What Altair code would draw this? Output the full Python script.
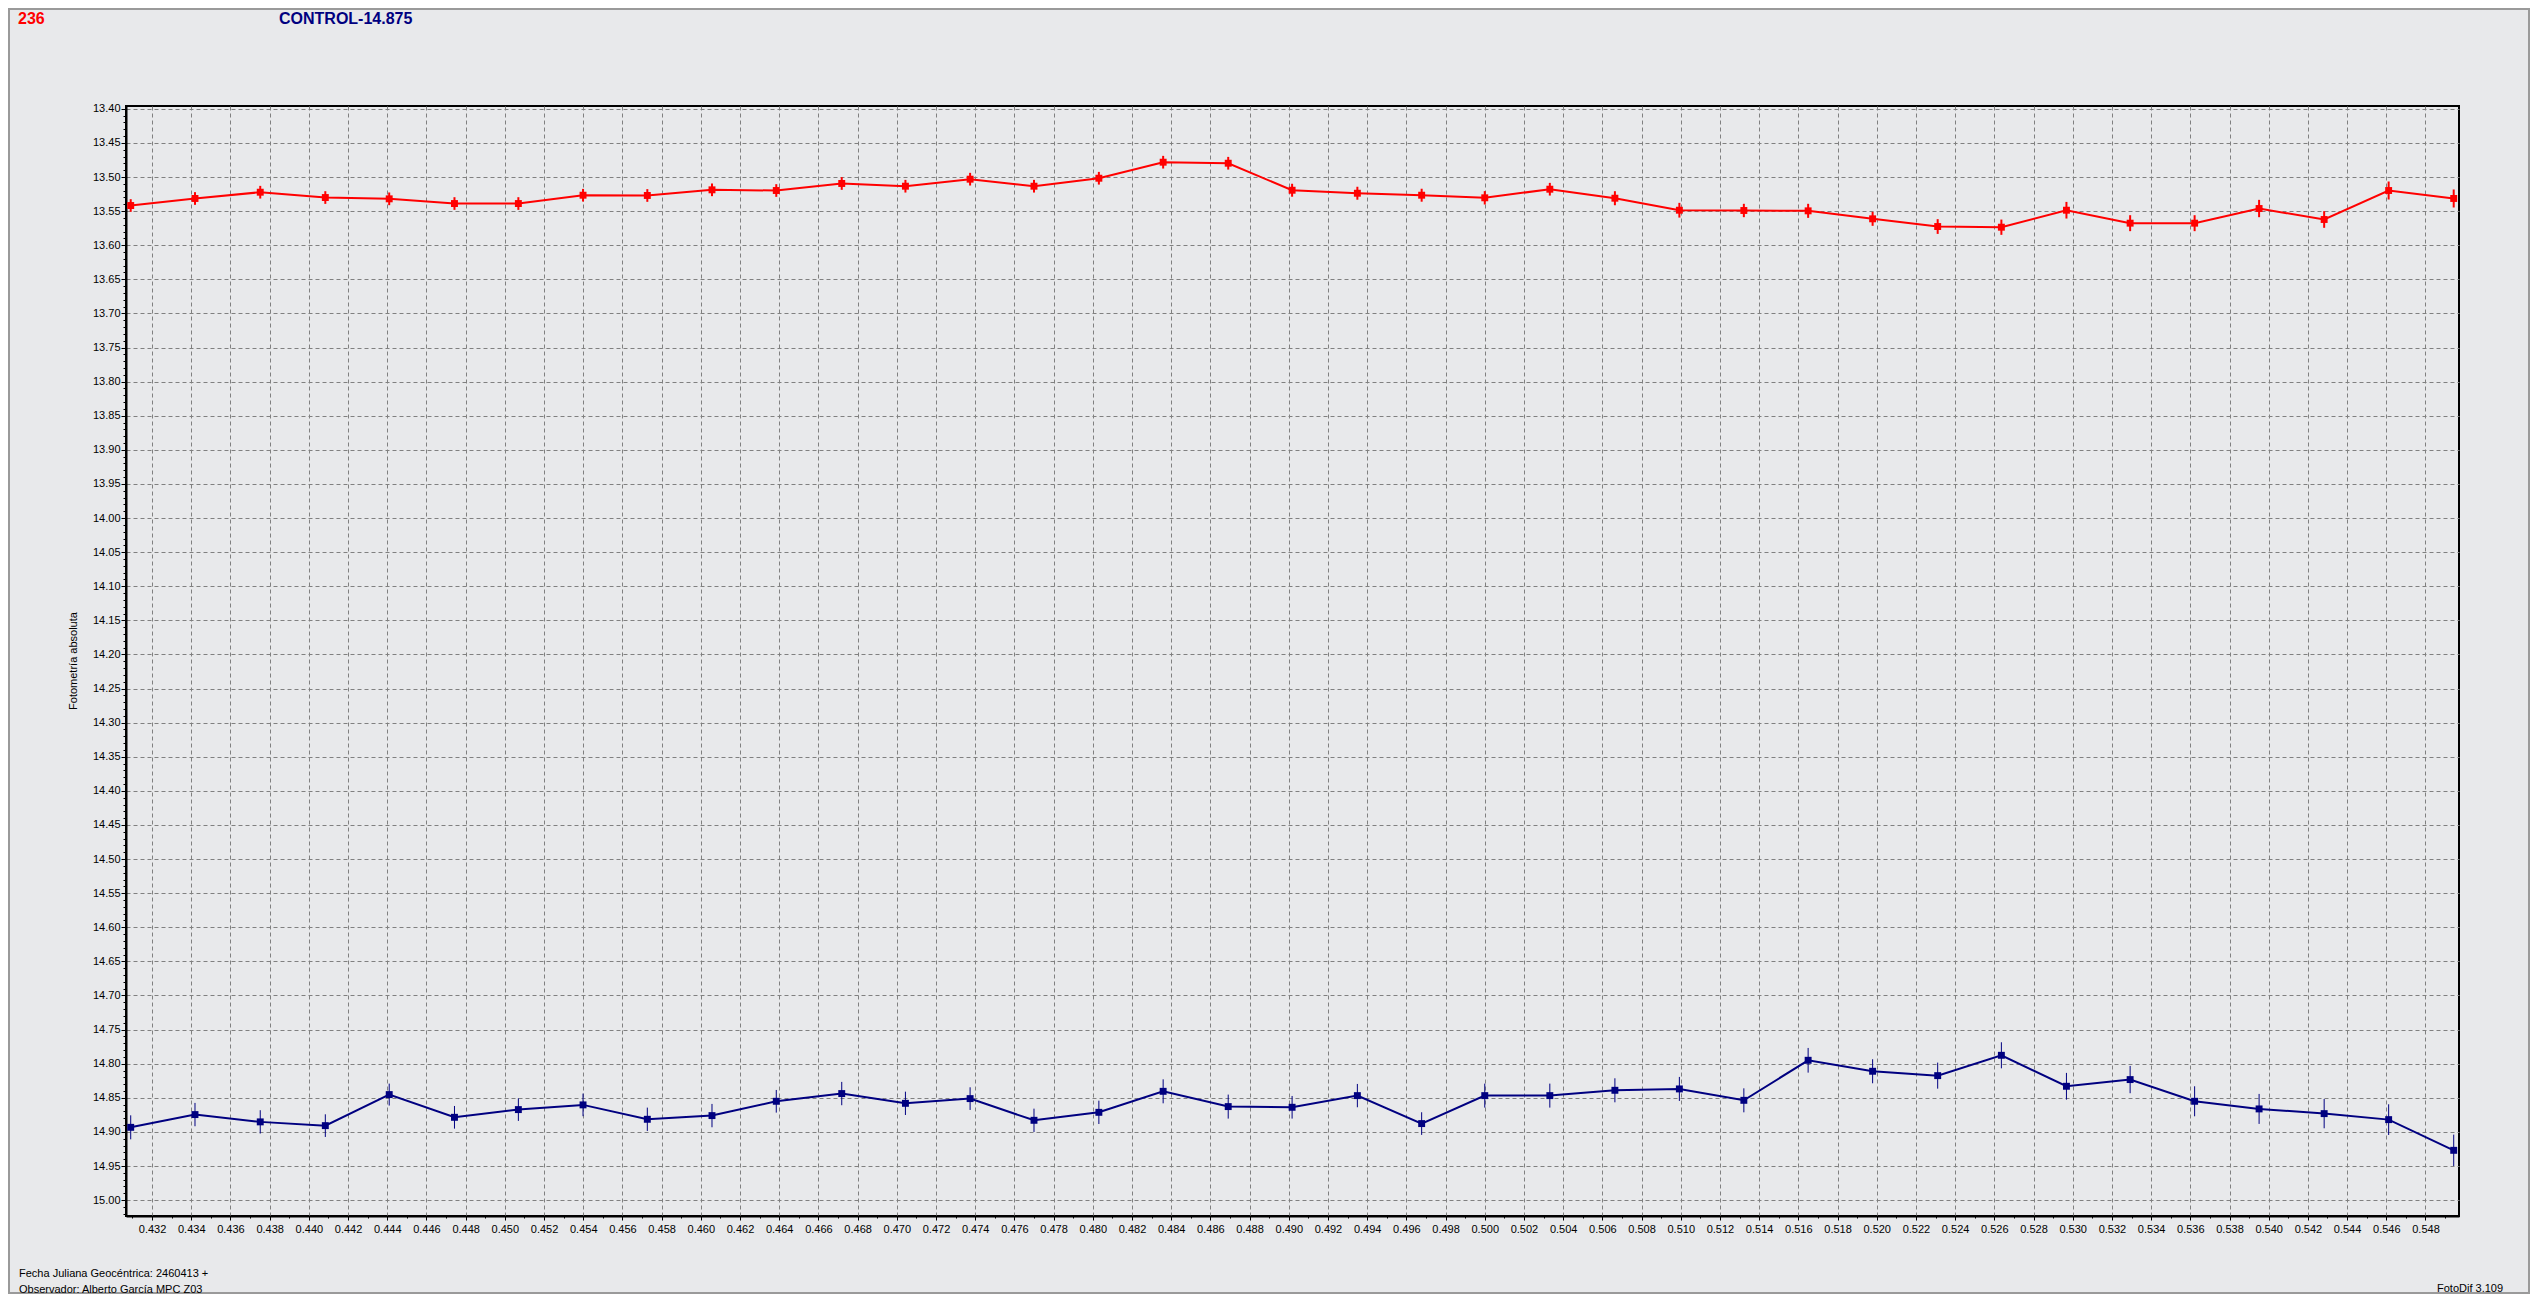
import altair as alt
import pandas as pd
import numpy as np

# ---------------- data ----------------
x_jd = [0.43091, 0.43419, 0.43752, 0.44084, 0.44410, 0.44743, 0.45069, 0.45399,
        0.45727, 0.46057, 0.46385, 0.46719, 0.47044, 0.47374, 0.47700, 0.48031,
        0.48359, 0.48691, 0.49017, 0.49350, 0.49678, 0.50000, 0.50332, 0.50664,
        0.50993, 0.51322, 0.51650, 0.51979, 0.52311, 0.52636, 0.52968, 0.53293,
        0.53622, 0.53951, 0.54283, 0.54612, 0.54944]

mag_236 = [13.5418, 13.5315, 13.5223, 13.5301, 13.5320, 13.5389, 13.5389, 13.5267,
           13.5271, 13.5188, 13.5198, 13.5095, 13.5135, 13.5032, 13.5135, 13.5018,
           13.4783, 13.4798, 13.5194, 13.5238, 13.5267, 13.5305, 13.5179, 13.5311,
           13.5487, 13.5491, 13.5496, 13.5613, 13.5726, 13.5736, 13.5487, 13.5677,
           13.5677, 13.5462, 13.5623, 13.5198, 13.5315]

err_236 = [0.0093, 0.0093, 0.0093, 0.0093, 0.0093, 0.0093, 0.0093, 0.0093,
           0.0093, 0.0093, 0.0093, 0.0093, 0.0093, 0.0093, 0.0093, 0.0093,
           0.0093, 0.0093, 0.0095, 0.0095, 0.0095, 0.0098, 0.0093, 0.0103,
           0.0108, 0.0098, 0.0103, 0.0103, 0.0108, 0.0112, 0.0122, 0.0117,
           0.0117, 0.0127, 0.0122, 0.0132, 0.0132]

mag_ctrl = [14.8933, 14.8746, 14.8853, 14.8908, 14.8453, 14.8786, 14.8673, 14.8604,
            14.8815, 14.8761, 14.8551, 14.8438, 14.8581, 14.8512, 14.8830, 14.8713,
            14.8405, 14.8629, 14.8639, 14.8468, 14.8878, 14.8468, 14.8468, 14.8390,
            14.8370, 14.8537, 14.7950, 14.8111, 14.8175, 14.7877, 14.8331, 14.8233,
            14.8551, 14.8663, 14.8732, 14.8820, 14.9270]

err_ctrl = [0.0176, 0.0171, 0.0171, 0.0166, 0.0161, 0.0166, 0.0166, 0.0166,
            0.0171, 0.0171, 0.0166, 0.0171, 0.0171, 0.0166, 0.0171, 0.0171,
            0.0176, 0.0176, 0.0166, 0.0171, 0.0166, 0.0176, 0.0176, 0.0176,
            0.0176, 0.0176, 0.0181, 0.0176, 0.0191, 0.0191, 0.0196, 0.0200,
            0.0220, 0.0220, 0.0215, 0.0225, 0.0230]

series_names = ["236", "CONTROL-14.875"]
series_colors = ["#FF0000", "#000080"]
bar_widths = [2, 1]

y_title = "Fotometría absoluta"
footer_1 = "Fecha Juliana Geocéntrica: 2460413 +"
footer_2 = "Observador: Alberto García MPC Z03"
footer_right = "FotoDif 3.109"

x_ticks = [float(round(v, 3)) for v in np.arange(431, 550) / 1000.0]
y_ticks = [float(round(v, 2)) for v in np.arange(1340, 1503) / 100.0]

rows = []
for name, mags, errs in [(series_names[0], mag_236, err_236),
                         (series_names[1], mag_ctrl, err_ctrl)]:
    for xv, m, e in zip(x_jd, mags, errs):
        rows.append({"series": name, "jd": xv, "mag": m, "lo": m - e, "hi": m + e})
df = pd.DataFrame(rows)

# ---------------- layout ----------------
W, H = 2333, 1110
PAD_L, PAD_T = 118, 98
TOTAL_W, TOTAL_H = 2522, 1286
PAD_R = TOTAL_W - PAD_L - W
PAD_B = TOTAL_H - PAD_T - H

BG = "#E8E9EB"
FONT = "Liberation Sans"

x_scale = alt.Scale(domain=[0.43067, 0.54971], nice=False, zero=False)
y_scale = alt.Scale(domain=[13.3959, 15.0233], nice=False, zero=False, reverse=True)

x_minor = "round(datum.value*1000) % 2 != 0"
y_minor = "round(datum.value*100) % 5 != 0"

x_axis = alt.Axis(
    values=x_ticks, tickCount=1000,
    labelExpr="round(datum.value*1000) % 2 == 0 ? format(datum.value, '.3f') : ''",
    grid=True, gridColor="#808080", gridDash=[4, 3], gridWidth=1,
    gridOpacity={"condition": {"test": x_minor, "value": 0}, "value": 1},
    tickSize={"condition": {"test": x_minor, "value": 2}, "value": 4},
    tickColor="black", tickWidth=1,
    domainColor="black", domainWidth=2,
    labelFont=FONT, labelFontSize=11, labelColor="black",
    labelPadding=3, labelOverlap=False, labelFlush=False, title=None,
)

y_axis = alt.Axis(
    values=y_ticks, tickCount=1000,
    labelExpr="round(datum.value*100) % 5 == 0 ? format(datum.value, '.2f') : ''",
    grid=True, gridColor="#808080", gridDash=[4, 3], gridWidth=1,
    gridOpacity={"condition": {"test": y_minor, "value": 0}, "value": 1},
    tickSize={"condition": {"test": y_minor, "value": 3}, "value": 5},
    tickColor="black", tickWidth=1,
    domainColor="black", domainWidth=2,
    labelFont=FONT, labelFontSize=11, labelColor="black",
    labelPadding=1, labelOverlap=False, labelFlush=False, title=None,
)

color = alt.Color("series:N", scale=alt.Scale(domain=series_names, range=series_colors),
                  legend=None)

base = alt.Chart(df)

lines = base.mark_line(strokeWidth=2).encode(
    x=alt.X("jd:Q", scale=x_scale, axis=x_axis),
    y=alt.Y("mag:Q", scale=y_scale, axis=y_axis),
    color=color,
    detail="series:N",
)

bars = base.mark_rule().encode(
    x=alt.X("jd:Q", scale=x_scale),
    y=alt.Y("lo:Q", scale=y_scale),
    y2="hi:Q",
    color=color,
    strokeWidth=alt.StrokeWidth("series:N",
                                scale=alt.Scale(domain=series_names, range=bar_widths),
                                legend=None),
)

points = base.mark_point(shape="square", filled=True, size=48, opacity=1).encode(
    x=alt.X("jd:Q", scale=x_scale),
    y=alt.Y("mag:Q", scale=y_scale),
    color=color,
)

def label(text, x, y, size=11, color="black", weight="normal", align="left", angle=0):
    kw = dict(font=FONT, fontSize=size, color=color, fontWeight=weight,
              align=align, baseline="middle")
    if angle:
        kw["angle"] = angle
    return alt.Chart(pd.DataFrame({"t": [text]})).mark_text(**kw).encode(
        text="t:N", x=alt.value(x), y=alt.value(y))

t_236 = label(series_names[0], -108, -87, size=16, color=series_colors[0], weight="bold")
t_ctrl = label(series_names[1], 153, -87, size=16, color=series_colors[1], weight="bold")
t_ytitle = label(y_title, -52, H / 2, align="center", angle=270)
t_f1 = label(footer_1, -107, 1167.5)
t_f2 = label(footer_2, -107, 1183.5)
t_fr = label(footer_right, 2311, 1182.5)

frame = alt.Chart(pd.DataFrame({"a": [0]})).mark_rect(
    filled=False, stroke="#9A9A9A", strokeWidth=2).encode(
    x=alt.value(-PAD_L + 1), x2=alt.value(W + PAD_R - 1),
    y=alt.value(-PAD_T + 1), y2=alt.value(H + PAD_B - 1))

chart = alt.layer(
    frame, lines, bars, points, t_236, t_ctrl, t_ytitle, t_f1, t_f2, t_fr
).properties(
    width=W, height=H,
    padding={"left": PAD_L, "top": PAD_T, "right": PAD_R, "bottom": PAD_B},
    autosize=alt.AutoSizeParams(type="none"),
    background=BG,
).configure_view(stroke="black", strokeWidth=2, fill=BG)

chart.save("out.html", embed_options={"renderer": "svg", "actions": False})
